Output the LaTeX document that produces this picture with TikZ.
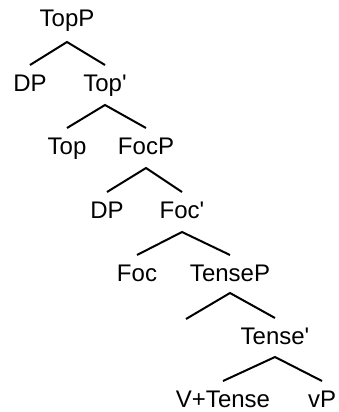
\documentclass[tikz,border=0pt]{standalone}
\usepackage{fontspec}
\setmainfont{Liberation Sans}
\begin{document}
\begin{tikzpicture}[x=1pt,y=-1pt,
  lbl/.style={anchor=base,inner sep=0pt,font=\fontsize{24}{28}\selectfont},
  edge/.style={line width=2pt}]
\useasboundingbox (0,0) rectangle (338,412);
\node[lbl] (topp) at (67,27) {TopP};
\node[lbl] (dp1) at (30,91) {DP};
\node[lbl] (topbar) at (105,91) {Top\textquotesingle};
\node[lbl] (top) at (67,154) {Top};
\node[lbl] (focp) at (146,154) {FocP};
\node[lbl] (dp2) at (107,218) {DP};
\node[lbl] (focbar) at (182,218) {Foc\textquotesingle};
\node[lbl] (foc) at (137,281) {Foc};
\node[lbl] (tensep) at (230,281) {TenseP};
\coordinate (empty) at (186,319);
\node[lbl] (tensebar) at (275,344) {Tense\textquotesingle};
\node[lbl] (vtense) at (223,407) {V+Tense};
\node[lbl] (vp) at (322,407) {vP};
\draw[edge] ([yshift=26pt]dp1.base) -- ([yshift=-15pt]topp.base) -- ([yshift=26pt]topbar.base);
\draw[edge] ([yshift=26pt]top.base) -- ([yshift=-14pt]topbar.base) -- ([yshift=26pt]focp.base);
\draw[edge] ([yshift=26pt]dp2.base) -- ([yshift=-14pt]focp.base) -- ([yshift=26pt]focbar.base);
\draw[edge] ([yshift=26pt]foc.base) -- ([yshift=-14pt]focbar.base) -- ([yshift=26pt]tensep.base);
\draw[edge] (empty) -- ([yshift=-12pt]tensep.base) -- ([yshift=26pt]tensebar.base);
\draw[edge] ([yshift=26pt]vtense.base) -- ([yshift=-13pt]tensebar.base) -- ([yshift=26pt]vp.base);
\end{tikzpicture}
\end{document}
